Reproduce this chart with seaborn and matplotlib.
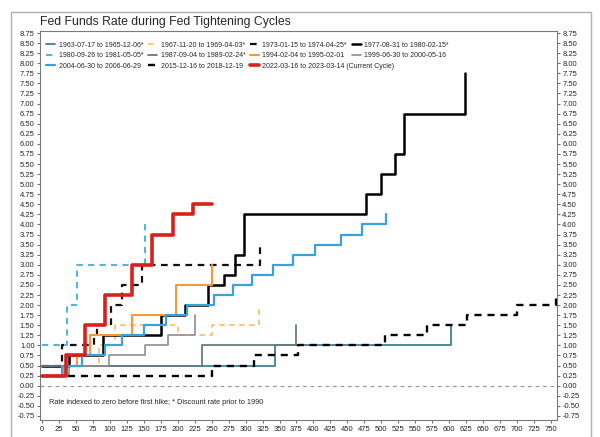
import matplotlib
matplotlib.use('Agg')
import matplotlib.pyplot as plt
import seaborn as sns
import numpy as np
import pandas as pd
from matplotlib.patches import Rectangle
from matplotlib.legend import Legend

# days after first hike (business days) and rate change indexed to zero
days_1963 = [0, 343, 603]
rate_1963 = [0.5, 1.0, 1.5]
days_1967 = [0, 83, 108, 200, 250, 320]
rate_1967 = [0.5, 1.0, 1.5, 1.25, 1.5, 2.0]
days_1973 = [0, 29, 76, 81, 102, 117, 147, 321]
rate_1973 = [0.5, 1.0, 1.25, 1.5, 2.0, 2.5, 3.0, 3.5]
days_1977 = [0, 39, 89, 175, 211, 245, 268, 284, 298, 478, 499, 521, 534, 624]
rate_1977 = [0.5, 0.75, 1.25, 1.75, 2.0, 2.5, 2.75, 3.25, 4.25, 4.75, 5.25, 5.75, 6.75, 7.75]
days_1980 = [0, 36, 51, 152]
rate_1980 = [1.0, 2.0, 3.0, 4.0]
days_1987 = [0, 235, 375]
rate_1987 = [0.5, 1.0, 1.5]
days_1994 = [0, 32, 51, 71, 133, 198, 251]
rate_1994 = [0.25, 0.5, 0.75, 1.25, 1.75, 2.5, 3.0]
days_1999 = [0, 39, 99, 151, 185, 225]
rate_1999 = [0.25, 0.5, 0.75, 1.0, 1.25, 1.75]
days_2004 = [0, 29, 58, 93, 117, 150, 183, 213, 253, 281, 310, 340, 370, 402, 441, 471, 507]
rate_2004 = [0.25, 0.5, 0.75, 1.0, 1.25, 1.5, 1.75, 2.0, 2.25, 2.5, 2.75, 3.0, 3.25, 3.5, 3.75, 4.0, 4.25]
days_2015 = [0, 251, 313, 377, 505, 568, 627, 701, 758]
rate_2015 = [0.25, 0.5, 0.75, 1.0, 1.25, 1.5, 1.75, 2.0, 2.25]
days_2022 = [0, 35, 63, 93, 132, 162, 193, 222, 250]
rate_2022 = [0.25, 0.75, 1.5, 2.25, 3.0, 3.75, 4.25, 4.5, 4.5]

labels = ['1963-07-17 to 1965-12-06*', '1967-11-20 to 1969-04-03*', '1973-01-15 to 1974-04-25*',
          '1977-08-31 to 1980-02-15*', '1980-09-26 to 1981-05-05*', '1987-09-04 to 1989-02-24*',
          '1994-02-04 to 1995-02-01', '1999-06-30 to 2000-05-16', '2004-06-30 to 2006-06-29',
          '2015-12-16 to 2018-12-19', '2022-03-16 to 2023-03-14 (Current Cycle)']

x_ticks = list(range(0, 751, 25))
y_ticks = list(np.arange(-0.75, 8.76, 0.25))

series = [
    (days_1963, rate_1963, '#3f7f92', '-', 1.3),
    (days_1967, rate_1967, '#f2c46d', '--', 1.3),
    (days_1973, rate_1973, '#111111', '--', 1.6),
    (days_1977, rate_1977, '#000000', '-', 1.8),
    (days_1980, rate_1980, '#57b6d4', '--', 1.5),
    (days_1987, rate_1987, '#6a7b82', '-', 1.3),
    (days_1994, rate_1994, '#f39a3a', '-', 1.5),
    (days_1999, rate_1999, '#8f8f8f', '-', 1.2),
    (days_2004, rate_2004, '#3aa2d6', '-', 1.6),
    (days_2015, rate_2015, '#000000', '--', 1.7),
    (days_2022, rate_2022, '#d9211c', '-', 2.6),
]

sns.set_style('white')
plt.rcParams['font.family'] = ['Liberation Sans', 'DejaVu Sans']

fig = plt.figure(figsize=(6, 4.37), dpi=100)
ax = fig.add_axes([0.067, 0.039, 0.861, 0.89])

# zero reference line
ax.axhline(0, color='#9a9a9a', lw=0.9, ls=(0, (3, 3)), zorder=1)

for (d, r, c, ls, lw), lab in zip(series, labels):
    df = pd.DataFrame({'day': d, 'rate': r})
    dash = (0, (3, 2.5)) if ls == '--' else '-'
    sns.lineplot(data=df, x='day', y='rate', ax=ax, color=c, linestyle=dash, linewidth=lw,
                 drawstyle='steps-post', estimator=None, sort=False, label=lab, zorder=3)

ax.set_xlim(-3, 759)
ax.set_ylim(-0.85, 8.8)
ax.set_xticks(x_ticks)
ax.set_yticks(y_ticks)
ax.set_yticklabels([f'{v:.2f}' for v in y_ticks])
ax.set_xlabel('')
ax.set_ylabel('')
ax.tick_params(axis='both', labelsize=5.5, length=2, width=0.6, color='#555555', pad=2,
               direction='out')
ax.tick_params(axis='y', right=True, labelright=True, left=True)
ax.tick_params(axis='x', bottom=True)
for s in ax.spines.values():
    s.set_color('#7a7a7a')
    s.set_linewidth(0.8)

# legend: a fixed grid of 4 columns filled row by row
handles, labs = ax.get_legend_handles_labels()
ax.get_legend().remove()
col_x = [0.012, 0.209, 0.406, 0.603]
row_y = [0.964, 0.936, 0.909]
for i, (h, lab) in enumerate(zip(handles, labs)):
    lg = Legend(ax, [h], [lab], loc='center left', fontsize=5.0, frameon=False,
                handlelength=1.3, handletextpad=0.5, borderpad=0, borderaxespad=0,
                bbox_to_anchor=(col_x[i % 4], row_y[i // 4]))
    ax.add_artist(lg)

ax.text(0.018, 0.045, 'Rate indexed to zero before first hike; * Discount rate prior to 1990',
        transform=ax.transAxes, fontsize=5.3, ha='left', va='center')

fig.text(0.067, 0.95, 'Fed Funds Rate during Fed Tightening Cycles', fontsize=8.8,
         ha='left', va='center')

fig.patches.append(Rectangle((0.018, -0.01), 0.967, 0.982, transform=fig.transFigure,
                             fill=False, edgecolor='#b0b0b0', lw=1.0))

fig.savefig('out.png', dpi=100)
